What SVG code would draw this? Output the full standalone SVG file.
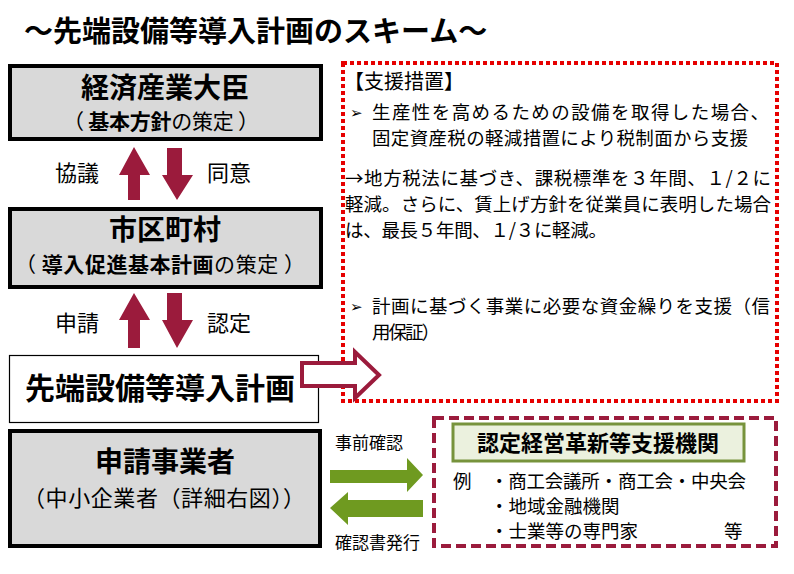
<svg xmlns="http://www.w3.org/2000/svg" width="794" height="574" viewBox="0 0 794 574">
<style>
text{font-family:"Noto Sans CJK JP","Noto Sans",sans-serif;fill:#000}
.b{font-weight:bold}
.gbox{fill:#d9d9d9;stroke:#000;stroke-width:4}
.red{fill:#9b1b3c}
.grn{fill:#6f9a20}
.t19{font-size:18.5px}
</style>
<rect width="794" height="574" fill="#fff"/>
<text x="24" y="42" class="b" font-size="29">～先端設備等導入計画のスキーム～</text>

<g id="node-meti">
<rect x="10" y="66" width="311" height="73" class="gbox"/>
<text x="165" y="98" class="b" font-size="28" text-anchor="middle">経済産業大臣</text>
<text x="161" y="129" font-size="21" text-anchor="middle" textLength="196" lengthAdjust="spacing">（ <tspan class="b">基本方針</tspan>の策定 ）</text>
</g>

<g id="node-city">
<rect x="10" y="209" width="311" height="78" class="gbox"/>
<text x="165" y="240" class="b" font-size="28" text-anchor="middle">市区町村</text>
<text x="160" y="272" font-size="21" text-anchor="middle" textLength="290" lengthAdjust="spacing">（ <tspan class="b">導入促進基本計画</tspan>の策定 ）</text>
</g>

<g id="node-plan">
<rect x="9.5" y="355.5" width="309" height="67" fill="#fff" stroke="#000" stroke-width="1.2"/>
<text x="160" y="399" class="b" font-size="30" text-anchor="middle">先端設備等導入計画</text>
</g>

<g id="node-applicant">
<rect x="10" y="431" width="310" height="115" class="gbox"/>
<text x="165" y="472" class="b" font-size="28" text-anchor="middle">申請事業者</text>
<text x="164" y="506" font-size="22" text-anchor="middle" textLength="282" lengthAdjust="spacing">（中小企業者（詳細右図））</text>
</g>

<g id="node-support">
<rect x="343" y="63" width="434" height="338" fill="none" stroke="#e60000" stroke-width="4" stroke-dasharray="4 3"/>
<text x="344" y="89" font-size="20">【支援措置】</text>
<text x="350" y="118" font-size="15">➢</text>
<text x="372" y="119" class="t19" textLength="397" lengthAdjust="spacing">生産性を高めるための設備を取得した場合、</text>
<text x="372" y="145" class="t19" textLength="376" lengthAdjust="spacing">固定資産税の軽減措置により税制面から支援</text>
<text x="345" y="185" class="t19" textLength="426" lengthAdjust="spacing">→地方税法に基づき、課税標準を３年間、１/２に</text>
<text x="345" y="211" class="t19" textLength="426" lengthAdjust="spacing">軽減。さらに、賃上げ方針を従業員に表明した場合</text>
<text x="345" y="237" class="t19" textLength="262" lengthAdjust="spacing">は、最長５年間、１/３に軽減。</text>
<text x="350" y="312" font-size="15">➢</text>
<text x="372" y="313" class="t19" textLength="398" lengthAdjust="spacing">計画に基づく事業に必要な資金繰りを支援（信</text>
<text x="372" y="339" class="t19" textLength="68" lengthAdjust="spacing">用保証）</text>
</g>

<g id="node-agency">
<rect x="434" y="418" width="342" height="128" fill="none" stroke="#9b1b3c" stroke-width="4" stroke-dasharray="10 5"/>
<rect x="453" y="424" width="291" height="37" fill="#ebf1de" stroke="#77933c" stroke-width="3"/>
<text x="598" y="451" class="b" font-size="22" text-anchor="middle">認定経営革新等支援機関</text>
<text x="453" y="488" class="t19">例</text>
<text x="490" y="488" class="t19" textLength="256" lengthAdjust="spacing">・商工会議所・商工会・中央会</text>
<text x="490" y="513" class="t19">・地域金融機関</text>
<text x="490" y="538" class="t19">・士業等の専門家</text>
<text x="724" y="538" class="t19">等</text>
</g>

<g id="connectors">
<polygon class="red" points="134,147 150,175 140,175 140,200 128,200 128,175 119,175"/>
<polygon class="red" points="167,148 182,148 182,175 193,175 177,200 162,175 167,175"/>
<polygon class="red" points="134,293 150,320 140,320 140,348 128,348 128,320 119,320"/>
<polygon class="red" points="167,293 182,293 182,320 193,320 177,348 162,320 167,320"/>
<polygon points="302,363 355,363 355,352 379,375 355,398 355,386 302,386" fill="#fff" stroke="#9b1b3c" stroke-width="4" stroke-linejoin="miter"/>
<polygon class="grn" points="330,470 407,470 407,458 423,475 407,492 407,483 330,483"/>
<polygon class="grn" points="423,500 348,500 348,492 330,508 348,525 348,517 423,517"/>
</g>

<g id="labels">
<text x="55" y="181" font-size="22">協議</text>
<text x="207" y="181" font-size="22">同意</text>
<text x="55" y="331" font-size="22">申請</text>
<text x="207" y="331" font-size="22">認定</text>
<text x="335" y="449" font-size="17">事前確認</text>
<text x="335" y="549" font-size="17">確認書発行</text>
</g>
</svg>
